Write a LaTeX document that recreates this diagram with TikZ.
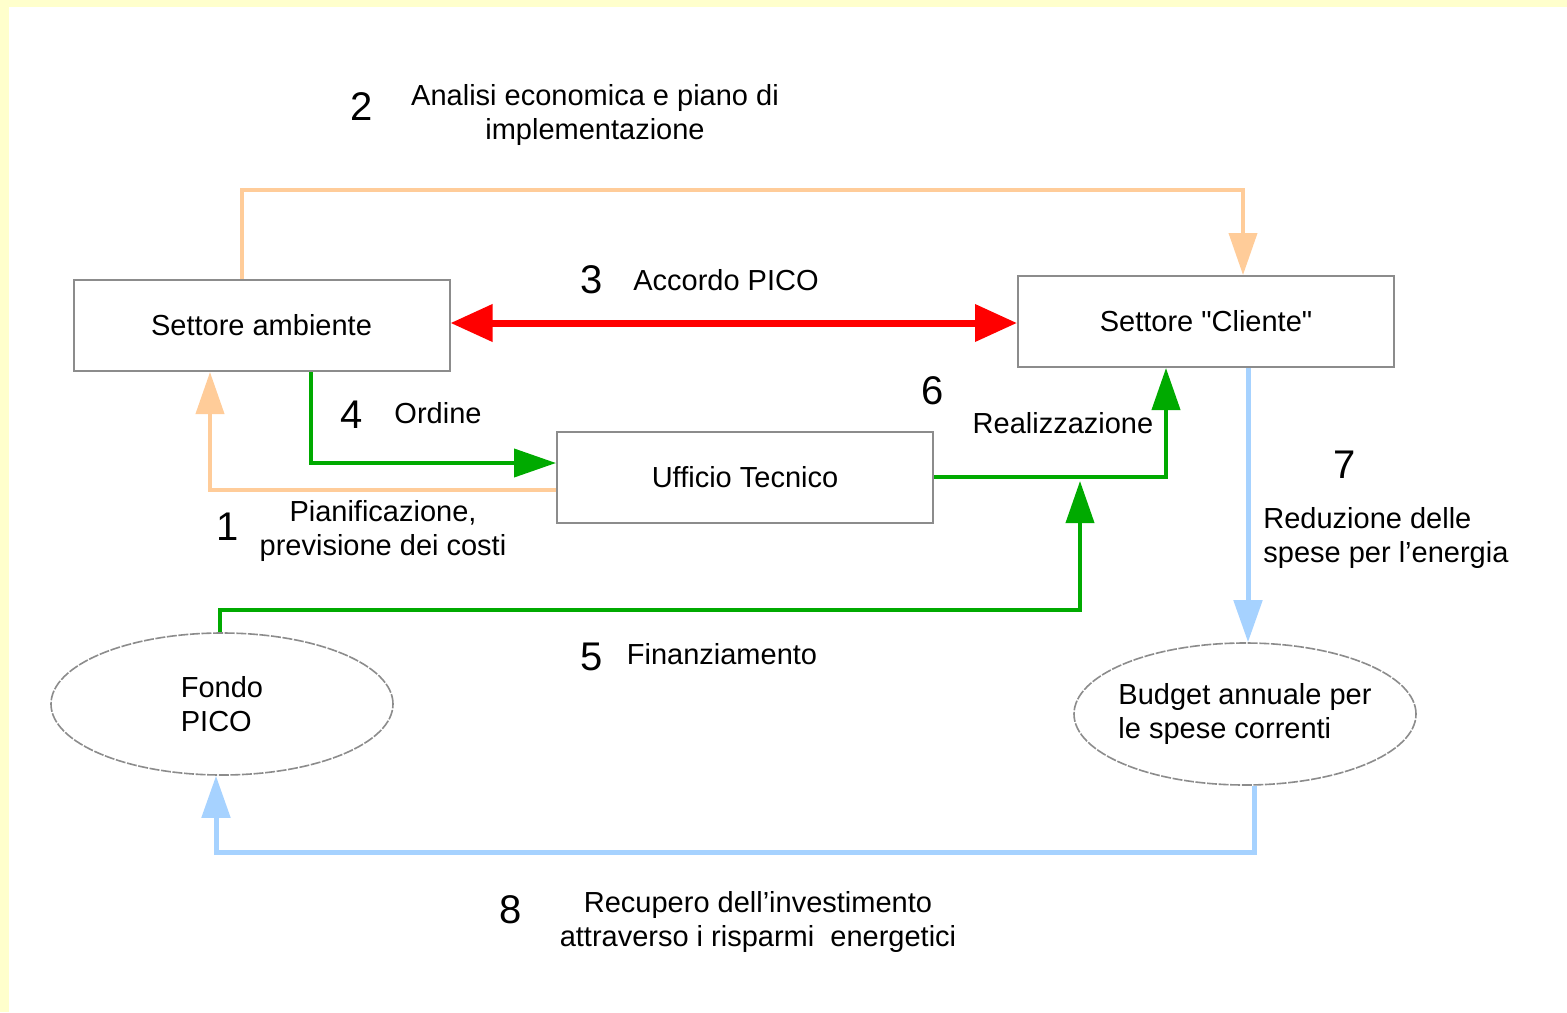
\documentclass[tikz,border=0pt]{standalone}
\usepackage{fontspec}
\setmainfont{Liberation Sans}
\usetikzlibrary{arrows.meta,shapes.geometric}
\definecolor{fondo}{HTML}{FFFFCC}
\definecolor{bordo}{HTML}{8C8C8C}
\definecolor{arancio}{HTML}{FFCC99}
\definecolor{verde}{HTML}{00AA00}
\definecolor{azzurro}{HTML}{A6D2FF}
\newcommand{\testo}{\fontsize{14.5}{17}\selectfont}
\newcommand{\cifra}{\fontsize{20}{20}\selectfont}
\tikzset{
    casella/.style={draw=bordo, line width=1pt, minimum width=188pt, minimum height=45.5pt, inner sep=0pt, font=\testo},
    cassa/.style={ellipse, draw=bordo, line width=0.8pt, dash pattern=on 5pt off 0.8pt, minimum width=171pt, minimum height=71pt, inner xsep=-8pt, inner ysep=0pt, align=left, font=\testo},
    didas/.style={inner sep=0pt, align=center, font=\testo},
    numero/.style={inner sep=0pt, font=\cifra},
    flusso/.style={line width=2pt, -{Triangle[length=21pt,width=14pt]}}
}
\begin{document}
\begin{tikzpicture}[x=0.5pt, y=-0.5pt]
    \useasboundingbox (0,0) rectangle (1567,1012);
    \fill[fondo] (0,0) rectangle (1567,1012);
    \fill[white] (9,7) rectangle (1567,1012);

    \node[casella] (amb) at (261.5,325.5) {Settore ambiente};
    \node[casella] (cli) at (1206,321.5) {Settore \textquotedbl Cliente\textquotedbl};
    \node[casella] (uff) at (745,477) {Ufficio Tecnico};
    \node[cassa] (pico) at (222,704) {Fondo\\PICO};
    \node[cassa] (bud) at (1245,714) {Budget annuale per\\le spese correnti};

    \draw[flusso, arancio] (242,0 |- amb.north) |- (1243,190) -- (1243,0 |- cli.north);
    \draw[flusso, arancio] (uff.west |- 0,490) -| (210,0 |- amb.south);
    \draw[line width=3.5pt, red, {Triangle[length=21pt,width=18pt]}-{Triangle[length=21pt,width=18pt]}] (amb.east |- 0,323) -- (cli.west |- 0,323);
    \draw[flusso, verde] (311,0 |- amb.south) |- (uff.west |- 0,463);
    \draw[flusso, verde] (uff.east) -| (1166,0 |- cli.south);
    \coordinate (real) at (1080,481);
    \draw[flusso, verde] (220,0 |- pico.north) |- (1080,610) -- (real);
    \draw[flusso, azzurro, line width=2.5pt] (1248,0 |- cli.south) -- (1248,0 |- bud.north);
    \draw[flusso, azzurro, line width=2.5pt] (1254,0 |- bud.south) |- (216,852) -- (216,0 |- pico.south);

    \node[numero] (n2) at (362,107) {2};
    \node[didas] (t2) at (595,115) {Analisi economica e piano di\\implementazione};
    \node[numero] (n3) at (592,280) {3};
    \node[didas] (t3) at (726,280) {Accordo PICO};
    \node[numero] (n4) at (352,415) {4};
    \node[didas] (t4) at (438,413) {Ordine};
    \node[numero] (n6) at (933,391) {6};
    \node[didas] (t6) at (1063,423) {Realizzazione};
    \node[numero] (n1) at (228,527) {1};
    \node[didas] (t1) at (383,531) {Pianificazione,\\previsione dei costi};
    \node[numero] (n7) at (1345,465) {7};
    \node[didas, anchor=west, align=left] (t7) at (1263,538) {Reduzione delle\\spese per l'energia};
    \node[numero] (n5) at (592,657) {5};
    \node[didas] (t5) at (722,654) {Finanziamento};
    \node[numero] (n8) at (511,910) {8};
    \node[didas] (t8) at (758,922) {Recupero dell'investimento\\attraverso i risparmi\ \ energetici};
\end{tikzpicture}
\end{document}
